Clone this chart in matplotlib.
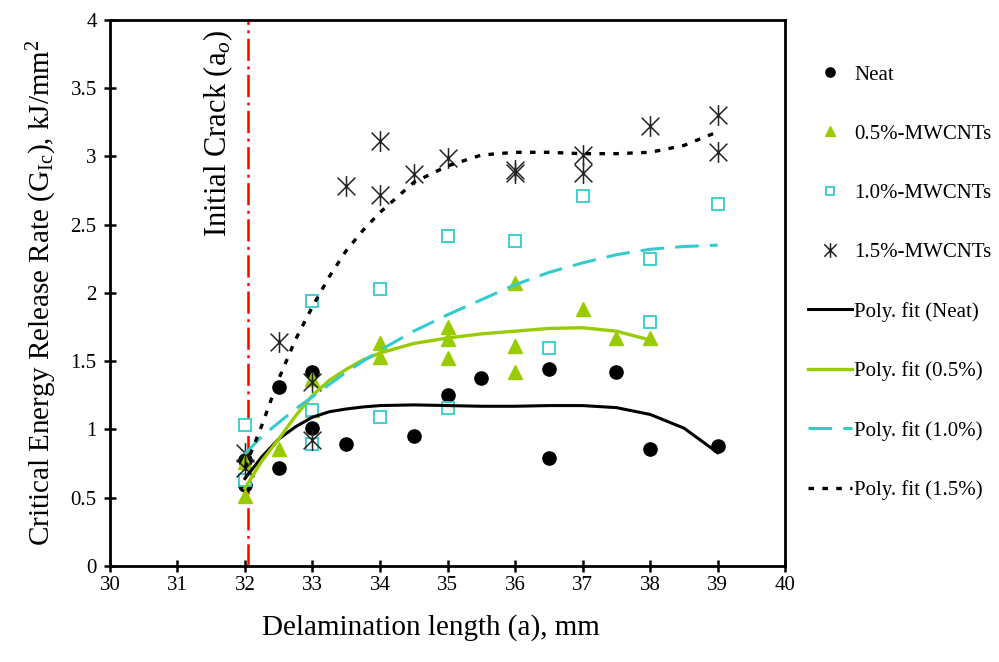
import matplotlib
matplotlib.use('Agg')
import matplotlib.pyplot as plt
from matplotlib.path import Path

plt.rcParams['font.family'] = ['Liberation Serif', 'DejaVu Serif']
plt.rcParams['mathtext.fontset'] = 'custom'
plt.rcParams['mathtext.rm'] = 'Liberation Serif'
plt.rcParams['mathtext.it'] = 'Liberation Serif:italic'
plt.rcParams['lines.scale_dashes'] = False

# measured points
neat_x = [32, 32, 32.5, 32.5, 33, 33, 33.5, 34.5, 35, 35.5, 36.5, 36.5, 37.5, 38, 39]
neat_y = [0.78, 0.59, 1.31, 0.72, 1.42, 1.01, 0.89, 0.95, 1.25, 1.38, 1.44, 0.79, 1.42, 0.855, 0.88]

p05_x = [32, 32, 32.5, 33, 33, 34, 34, 35, 35, 35, 36, 36, 36, 37, 37.5, 38]
p05_y = [0.51, 0.76, 0.86, 1.37, 1.14, 1.63, 1.53, 1.75, 1.66, 1.52, 2.07, 1.61, 1.42, 1.88, 1.67, 1.67]

p10_x = [32, 32, 33, 33, 33, 34, 34, 35, 35, 36, 36.5, 37, 38, 38, 39]
p10_y = [1.03, 0.63, 1.94, 1.14, 0.89, 2.03, 1.09, 2.42, 1.155, 2.38, 1.60, 2.71, 2.25, 1.785, 2.65]

p15_x = [32, 32, 32.5, 33, 33, 33.5, 34, 34, 34.5, 35, 36, 36, 37, 37, 38, 39, 39]
p15_y = [0.83, 0.72, 1.64, 1.35, 0.92, 2.78, 3.115, 2.72, 2.87, 2.99, 2.90, 2.88, 3.01, 2.88, 3.225, 3.30, 3.035]

# polynomial trend lines
fit_x = [32, 32.25, 32.5, 32.75, 33, 33.25, 33.5, 33.75, 34, 34.5, 35, 35.5, 36, 36.5, 37, 37.5, 38, 38.5, 39]
fit_neat = [0.64, 0.80, 0.93, 1.02, 1.09, 1.13, 1.15, 1.165, 1.175, 1.18, 1.175, 1.17, 1.17, 1.175, 1.175, 1.16, 1.11, 1.01, 0.83]
fit_p10 = [0.82, 0.95, 1.05, 1.15, 1.24, 1.33, 1.42, 1.50, 1.58, 1.72, 1.84, 1.95, 2.06, 2.15, 2.22, 2.28, 2.32, 2.34, 2.35]
fit_p15 = [0.72, 1.03, 1.37, 1.66, 1.90, 2.12, 2.31, 2.46, 2.59, 2.81, 2.93, 3.01, 3.03, 3.03, 3.02, 3.02, 3.03, 3.08, 3.18]
fit05_x = fit_x[:-2]
fit_p05 = [0.57, 0.77, 0.93, 1.10, 1.25, 1.36, 1.44, 1.51, 1.56, 1.63, 1.67, 1.70, 1.72, 1.74, 1.745, 1.72, 1.655]

green = '#99CC00'
cyan = '#33CCCC'

star = Path([(0, -1), (0, 1), (-0.85, -0.85), (0.85, 0.85), (-0.85, 0.85), (0.85, -0.85)],
            [Path.MOVETO, Path.LINETO] * 3)

fig = plt.figure(figsize=(9.99, 6.62), dpi=100)
ax = fig.add_axes([0.110, 0.145, 0.676, 0.825])

ax.plot(neat_x, neat_y, 'o', color='black', ms=9.5, ls='none', label='Neat', zorder=3)
ax.plot(p05_x, p05_y, '^', color=green, ms=10, ls='none', label='0.5%-MWCNTs', zorder=3)
ax.plot(p10_x, p10_y, 's', mfc='white', mec=cyan, mew=1.3, ms=8.5, ls='none', label='1.0%-MWCNTs', zorder=3)
ax.plot(p15_x, p15_y, marker=star, mfc='none', mec='#222222', mew=1.1, ms=15, ls='none', label='1.5%-MWCNTs', zorder=3)

ax.plot(fit_x, fit_neat, color='black', lw=2.2, label='Poly. fit (Neat)', zorder=4)
ax.plot(fit05_x, fit_p05, color=green, lw=2.4, label='Poly. fit (0.5%)', zorder=4)
ax.plot(fit_x, fit_p10, color=cyan, lw=2.2, dashes=(17, 8), label='Poly. fit (1.0%)', zorder=4)
ax.plot(fit_x, fit_p15, color='black', lw=2.4, dashes=(4, 6), label='Poly. fit (1.5%)', zorder=4)

ax.axvline(32.05, color='red', lw=1.8, dashes=(16, 4, 2, 4), zorder=2)
ax.text(31.6, 3.17, 'Initial Crack (a$_o$)', rotation=90, ha='center', va='center', fontsize=22)

ax.set_xlim(30, 40)
ax.set_ylim(0, 4)
ax.set_xticks(range(30, 41))
ax.set_yticks([0, 0.5, 1, 1.5, 2, 2.5, 3, 3.5, 4])
ax.set_yticklabels(['0', '0.5', '1', '1.5', '2', '2.5', '3', '3.5', '4'])
ax.tick_params(direction='inout', length=9, width=1.8, labelsize=15)
ax.tick_params(axis='x', pad=3)
ax.tick_params(axis='y', pad=5)
for s in ax.spines.values():
    s.set_linewidth(2)

ax.set_xlabel('Delamination length (a), mm', fontsize=21)
ax.xaxis.set_label_coords((431 - 110) / 675, -0.088)
ax.set_ylabel('Critical Energy Release Rate (G$_{\\rm Ic}$), kJ/mm$^2$', fontsize=21, labelpad=8)

ax.legend(loc='upper left', bbox_to_anchor=(808 / 999, 1 - 65 / 662), bbox_transform=fig.transFigure,
          frameon=False, fontsize=15, labelspacing=1.9, handlelength=2.1, handletextpad=0.12,
          borderpad=0, borderaxespad=0, markerscale=0.7, numpoints=1)

fig.savefig('out.png', dpi=100)
